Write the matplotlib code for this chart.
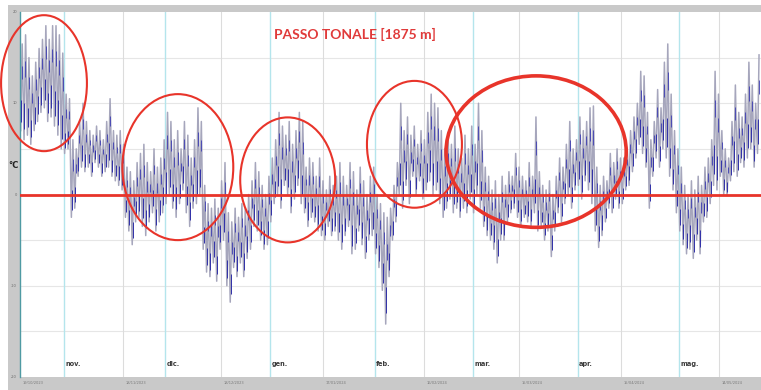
import numpy as np
import matplotlib
matplotlib.use("Agg")
import matplotlib.pyplot as plt
from matplotlib.patches import Ellipse, Rectangle

# Daily maximum / minimum air temperature (°C), day 0 = 19/10/2023
tmax = [16.5, 17.5, 15, 13, 14.5, 16, 17, 18.5, 17, 18.5, 18.5, 17.5, 15.5, 11, 10.5,
        6, 5, 8, 10, 8, 7, 6.5, 7.5, 7, 6, 8, 10.5, 7, 6.5, 7, 5.5,
        3, 2.5, 1.5, 3.5, 4.5, 5.5, 3.5, 2.5, 5, 3, 4, 6, 9,
        8, 6, 7, 5, 8, 6.5, 4, 6, 9.5, 8, 1, -1, -1.5, -0.5, -1.5, 1.5, 3.5,
        -2, -3, -1.5, -2.5, -1, -1.5, 0, 1.5, 3.5, 2.5, 1, 0, 2,
        4, 6, 9, 7.5, 6.5, 8, 5.5, 7, 9, 8, 3, 4, 3.5, 2, 4, 1.5, 0.5, 2, 1,
        2, 3.5, 2, 1, 3.5, 2.5, 0.5, 3, 1.5, 0, 2, 3, 0, -1, -2, -2.5, -1.5, 1, 3.5,
        10, 7, 8.5, 6.5, 7.5, 5.5, 7, 6, 9, 11, 10, 9.5, 7, 5, 6.5, 5.5, 7.5, 5, 4,
        6.5, 5, 7.5, 5.5, 10, 7, 3, 2, 0.5, 1.5, 0, 2,
        1, 2.5, 2, 4.5, 3, 2, 1.5, 3.5, 2, 8.5, 2.5, 1, 0.5, 1.5, 0, 2, 4, 3, 5.5,
        8, 5, 6, 8.5, 7, 8, 9.5, 9.7, 3, 1, 2, 1.5, 4.5, 3.5, 5, 4,
        4, 5, 7, 8.5, 10, 13.5, 13, 9, 6, 8, 11.5, 9.5, 14.5, 16.5, 11, 7, 5, 3,
        1, 0, 1.5, 0.5, 2, 1, 3, 4, 6, 13.5, 11,
        7, 5, 4, 8, 12, 9, 8.5, 11, 14.5, 12, 10, 15.3]
tmin = [7, 6, 6.5, 5.5, 7, 8, 9, 9.5, 8, 8.5, 7.5, 6.5, 5, 4.5, 5,
        -2.5, -1.5, 2, 3, 2.5, 3, 2, 3.5, 3, 2, 2.5, 3, 2, 1.5, 1, 0.5,
        -2.5, -4, -5.5, -3, -2.5, -3.5, -4.5, -3, -2, -4, -3, -2, -1,
        0, -1.5, -2.5, -1, 0.5, -2, -3.5, -1.5, -1, 0, -6, -8.5, -9, -7.5, -9.5, -6, -5,
        -10, -11.8, -8, -9, -7.5, -9, -7, -6, -3.5, -4, -5, -6, -5.5,
        -3, -1, 0, -1.5, 1, 0, -2, -0.5, 1, -1, -2, -3.5, -2.5, -3, -4, -4.5, -5, -3.5, -4.5,
        -4, -5, -6, -4.5, -3.5, -6.5, -6, -4, -5.5, -7, -5, -4.5, -6.5, -8, -10.5, -14.2, -9, -5, -3,
        0, -1.5, 1, -1, 2, 0, 1.5, -0.5, 0.5, 1.5, 0, 0.5, -1, -2.5, -1.5, -0.5, -2, -1.5, -2.5,
        -1.5, -2, -0.5, -2, 0, -1.5, -3.5, -4.5, -5, -6, -7.5, -5,
        -5, -3, -2, -1.5, -2.5, -3.5, -2.5, -3, -3.5, -2, -4, -3.5, -5, -4, -6.8, -4, -2, -3, -1,
        0, -1.5, 0.5, 1, -0.5, 1.5, 0.5, -1, -4, -5.8, -4.5, -3, -1.5, -2, -0.5, -1.5,
        -1, 0.5, 1, 2.5, 4, 5.5, 4.5, 3, -1.5, 2, 4, 3, 5, 4, 2, 0.5, -2, -4,
        -5.5, -6.5, -6, -7, -5, -6.5, -3, -2.5, -1, 1, 0.5,
        2, 0, -0.1, 1.5, 2.5, 2, 3.5, 3, 4, 5, 3, 4.5]

month_days = [13, 43, 74, 105, 134, 165, 195]
month_labels = ["nov.", "dic.", "gen.", "feb.", "mar.", "apr.", "mag."]
date_days = [0, 30.5, 59.5, 89.6, 119.5, 147.6, 177.8, 206.8]
date_labels = ["19/10/2023", "18/11/2023", "18/12/2023", "17/01/2024",
               "16/02/2024", "15/03/2024", "15/04/2024", "14/05/2024"]
y_ticks = [-20, -10, 0, 10, 20]

# highlighted periods: (centre day, centre °C, width days, height °C, line width)
highlights = [(7.1, 12.2, 25.4, 14.9, 1.5),
              (46.7, 3.0, 32.8, 16.0, 1.5),
              (79.2, 1.6, 28.1, 13.7, 1.5),
              (116.7, 5.5, 28.1, 13.9, 1.5),
              (152.7, 4.7, 53.3, 16.6, 2.6)]

W, H = 761, 390
fig = plt.figure(figsize=(W / 100, H / 100), dpi=100)
fig.patch.set_facecolor("white")
frame = Rectangle((8 / W, 0), 1 - 8 / W, 1 - 5 / H, transform=fig.transFigure,
                  facecolor="#c9c9c9", edgecolor="none", zorder=-5)
fig.add_artist(frame)

ax = fig.add_axes([20 / W, 13 / H, 741 / W, 365 / H])
ax.set_zorder(1)
ax.set_facecolor("white")
ax.set_xlim(0, 741 / 3.38)
ax.set_ylim(-20, 20)
for s in ["top", "right", "bottom"]:
    ax.spines[s].set_visible(False)
ax.spines["left"].set_color("#4f9aa3")
ax.spines["left"].set_linewidth(1.0)
ax.set_xticks([])
ax.set_yticks([])

for v in range(-15, 20, 5):
    ax.axhline(v, color="#e6e6e6", lw=0.8, zorder=1)
for d in date_days[1:]:
    ax.axvline(d, color="#dcdcdc", lw=0.8, zorder=1)
for d in month_days:
    ax.axvline(d, color="#b4e5ec", lw=1.0, zorder=1)

# temperature trace: one excursion per day between minimum and maximum
days = np.arange(len(tmax))
lo = np.asarray(tmin, dtype=float)
hi = np.asarray(tmax, dtype=float)
rng = hi - lo
xs = np.empty(2 * len(days))
ys = np.empty(2 * len(days))
xs[0::2] = days + 0.2
xs[1::2] = days + 0.65
ys[0::2] = lo
ys[1::2] = hi
ax.plot(xs, ys, color="#a6a6bc", lw=1.1, zorder=2)
# darker night-time / daytime portions of each excursion
ax.vlines(days + 0.3, lo + 0.1 * rng, lo + 0.35 * rng, color="#3030a8", lw=0.7, zorder=3)
ax.vlines(days + 0.6, hi - 0.4 * rng, hi - 0.25 * rng, color="#3c3cb2", lw=0.6, zorder=3)

ax.axhline(0, color="#e8342a", lw=2.0, zorder=4)

for cx, cy, w, h, lw in highlights:
    ax.add_patch(Ellipse((cx, cy), w, h, fill=False, ec="#e8342a", lw=lw,
                         clip_on=False, zorder=5))

for d, lab in zip(month_days, month_labels):
    ax.text(d + 0.4, -18.6, lab, fontsize=4.8, fontweight="bold", color="#3c3c3c",
            ha="left", va="center", family="DejaVu Sans")
for d, lab in zip(date_days, date_labels):
    ax.text(d + 0.8, -20.45, lab, fontsize=2.6, color="#7a7a7a", ha="left", va="top",
            clip_on=False)
for v in y_ticks:
    ax.text(-0.9, v, str(v), fontsize=2.6, color="#6a6a6a", ha="right", va="center",
            clip_on=False)

fig.text(13 / W, 1 - 165 / H, "°C", fontsize=6, fontweight="bold", color="#222222",
         ha="center", va="center", zorder=3)
fig.text(355 / W, 1 - 34 / H, "PASSO TONALE [1875 m]", fontsize=10, fontweight="bold",
         color="#e03a3a", ha="center", va="center", family="Lato", zorder=3)

fig.savefig("out.png", dpi=100)
